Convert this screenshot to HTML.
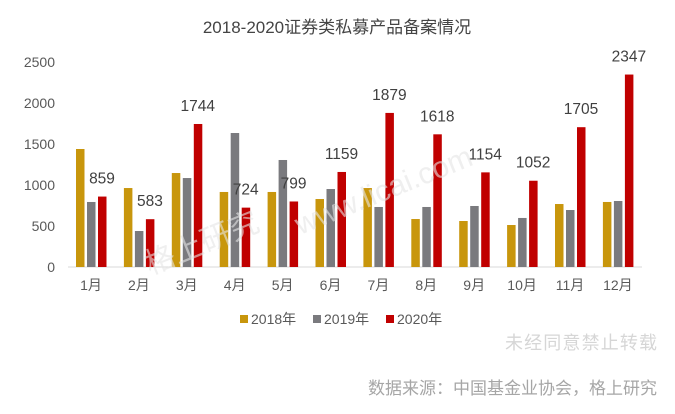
<!DOCTYPE html>
<html><head><meta charset="utf-8"><style>html,body{margin:0;padding:0;background:#fff}</style></head>
<body>
<svg width="675" height="409" xmlns="http://www.w3.org/2000/svg" font-family="Liberation Sans, Noto Sans CJK SC, sans-serif">
<rect width="675" height="409" fill="#fff"/>
<text x="337" y="33" font-size="17" fill="#444" text-anchor="middle">2018-2020证券类私募产品备案情况</text>
<g font-size="14" fill="#595959" text-anchor="end">
<text x="55" y="272">0</text><text x="55" y="231">500</text><text x="55" y="190">1000</text><text x="55" y="149">1500</text><text x="55" y="108">2000</text><text x="55" y="67">2500</text>
</g>
<line x1="68" y1="267" x2="642" y2="267" stroke="#d9d9d9"/>
<g id="bars"></g>
<g font-size="14" fill="#595959" text-anchor="middle" id="xl"></g>
<g font-size="15.5" fill="#404040" text-anchor="middle" id="vl"></g>
<g font-size="14" fill="#595959">
<rect x="240" y="315" width="8" height="8" fill="#C8960C"/><text x="251" y="324">2018年</text>
<rect x="313" y="315" width="8" height="8" fill="#7a7a7e"/><text x="324" y="324">2019年</text>
<rect x="386" y="315" width="8" height="8" fill="#C00000"/><text x="397" y="324">2020年</text>
</g>
<text x="657" y="349" font-size="18" fill="#d6d6d6" text-anchor="end" textLength="152">未经同意禁止转载</text>
<text x="657" y="394" font-size="17" fill="#a6a6a6" text-anchor="end" textLength="289">数据来源：中国基金业协会，格上研究</text>
<text x="0" y="0" font-size="30" fill="#e6e6e6" opacity="0.6" transform="translate(150,275) rotate(-22)">格上研究</text>
<text x="0" y="0" font-size="30" fill="#e6e6e6" opacity="0.6" transform="translate(300,235) rotate(-22)">www.licai.com</text>
<script>
var d=[[1439,793,859],[963,439,583],[1146,1085,1744],[915,1634,724],[915,1305,799],[829,951,1159],[963,732,1879],[585,732,1618],[561,744,1154],[512,598,1052],[768,695,1705],[793,805,2347]];
var c=["#C8960C","#7a7a7e","#C00000"],ns="http://www.w3.org/2000/svg";
var B=document.getElementById("bars"),X=document.getElementById("xl"),V=document.getElementById("vl");
d.forEach(function(r,i){var x0=76+i*47.9;
r.forEach(function(v,j){var h=v*0.082,e=document.createElementNS(ns,"rect");
e.setAttribute("x",x0+j*11);e.setAttribute("y",267-h);e.setAttribute("width",8.5);e.setAttribute("height",h);e.setAttribute("fill",c[j]);B.appendChild(e);
if(j==2){var t=document.createElementNS(ns,"text");t.setAttribute("x",x0+j*11+4);t.setAttribute("y",267-h-13);t.textContent=v;V.appendChild(t);}});
var t=document.createElementNS(ns,"text");t.setAttribute("x",x0+15);t.setAttribute("y",290);t.textContent=(i+1)+"月";X.appendChild(t);});
</script>
</svg>
</body></html>
